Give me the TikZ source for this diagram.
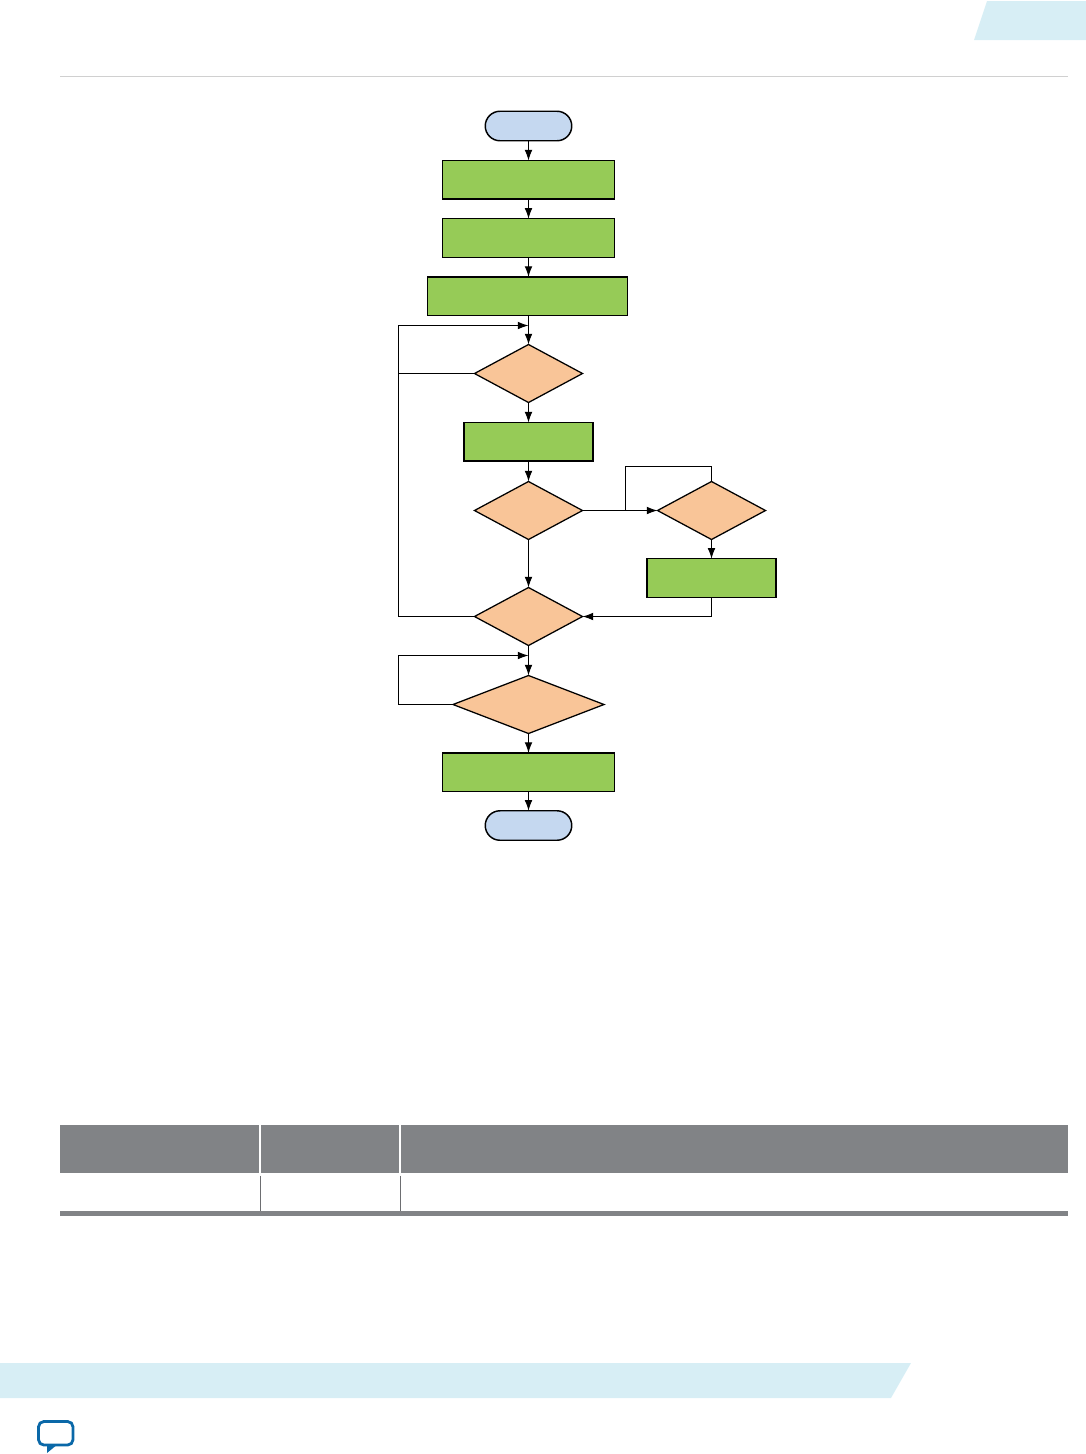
\documentclass[tikz,border=0pt]{standalone}
\usetikzlibrary{arrows.meta,shapes.geometric,shapes.misc}
\definecolor{boxgreen}{RGB}{150,203,87}
\definecolor{deco}{RGB}{249,197,152}
\definecolor{termblue}{RGB}{197,216,240}
\definecolor{band}{RGB}{215,238,245}
\definecolor{tablegray}{RGB}{129,131,134}
\definecolor{tableline}{RGB}{109,110,113}
\definecolor{rulegray}{RGB}{208,208,208}
\definecolor{iconblue}{RGB}{10,104,168}
\tikzset{
  every node/.style={inner sep=0pt,outer sep=0pt},
  termbox/.style={draw=black,line width=1.1pt,fill=termblue,rounded rectangle,minimum width=86.5\pxu,minimum height=29.5\pxu},
  stepbox/.style={draw=black,line width=1.1pt,fill=boxgreen,rectangle},
  decbox/.style={draw=black,line width=0.95pt,fill=deco,diamond,minimum width=108\pxu,minimum height=58\pxu},
  flow/.style={draw=black,line width=0.75pt,-{Latex[length=8pt,width=5.8pt]}},
  plain/.style={draw=black,line width=0.75pt},
}
\newcommand{\pxu}{*0.75pt}
\begin{document}
\begin{tikzpicture}[x=0.75pt,y=-0.75pt]
\useasboundingbox (0,0) rectangle (1086,1454);
% page decoration
\fill[band] (987,1) -- (1086,1) -- (1086,40) -- (974,40) -- cycle;
\draw[rulegray,line width=0.75pt] (60,76.5) -- (1068,76.5);
\fill[band] (0,1363) -- (911,1363) -- (891,1398) -- (0,1398) -- cycle;
\fill[iconblue] (47,1444) -- (58,1444) -- (47,1453) -- cycle;
\draw[iconblue,line width=2.1pt,rounded corners=4pt] (38.5,1421.5) rectangle (73,1445);
% table
\fill[tablegray] (60,1125) rectangle (259,1173);
\fill[tablegray] (261,1125) rectangle (399,1173);
\fill[tablegray] (401,1125) rectangle (1068,1173);
\fill[tablegray] (60,1211) rectangle (1068,1216);
\draw[tableline,line width=0.6pt] (260.3,1175.5) -- (260.3,1211);
\draw[tableline,line width=0.6pt] (400.3,1175.5) -- (400.3,1211);
% nodes
\node[termbox] (start) at (528.5,126) {};
\node[stepbox,minimum width=172\pxu,minimum height=38.5\pxu] (r1) at (528.5,179.8) {};
\node[stepbox,minimum width=172\pxu,minimum height=38.5\pxu] (r2) at (528.5,238) {};
\node[stepbox,minimum width=200\pxu,minimum height=38.5\pxu] (r3) at (527.5,296.2) {};
\node[decbox] (d1) at (528.5,373.5) {};
\node[stepbox,minimum width=129\pxu,minimum height=38.5\pxu] (r4) at (528.5,441.8) {};
\node[decbox] (d2) at (528.5,510.5) {};
\node[decbox] (d3) at (711.5,510.5) {};
\node[stepbox,minimum width=129\pxu,minimum height=38.5\pxu] (r5) at (711.5,578) {};
\node[decbox] (d4) at (528.5,616.5) {};
\node[decbox,minimum width=151\pxu] (d5) at (528.5,704.5) {};
\node[stepbox,minimum width=172\pxu,minimum height=38.5\pxu] (r6) at (528.5,772.2) {};
\node[termbox] (stop) at (528.5,825.5) {};
\coordinate (j1) at (528.5,325.5);
\coordinate (j2) at (528.5,655.5);
\coordinate (split) at (625.5,510.5);
% connectors
\draw[flow] (start) -- (r1);
\draw[flow] (r1) -- (r2);
\draw[flow] (r2) -- (r3.north -| r2.south);
\draw[flow] (r3.south -| d1.north) -- (d1.north);
\draw[flow] (d1) -- (r4);
\draw[flow] (r4) -- (d2);
\draw[flow] (d2) -- (d3);
\draw[flow] (d3) -- (r5);
\draw[flow] (d2) -- (d4);
\draw[flow] (d4) -- (d5);
\draw[flow] (d5) -- (r6);
\draw[flow] (r6) -- (stop);
\draw[flow] (r5.south) |- (d4.east);
\draw[flow] (d1.west) -- (398.5,373.5) |- (j1);
\draw[plain] (d4.west) -- (398.5,616.5) -- (398.5,373.5);
\draw[flow] (d5.west) -- (398.5,704.5) |- (j2);
\draw[plain] (split) -- (625.5,466.5) -| (d3.north);
\end{tikzpicture}
\end{document}
